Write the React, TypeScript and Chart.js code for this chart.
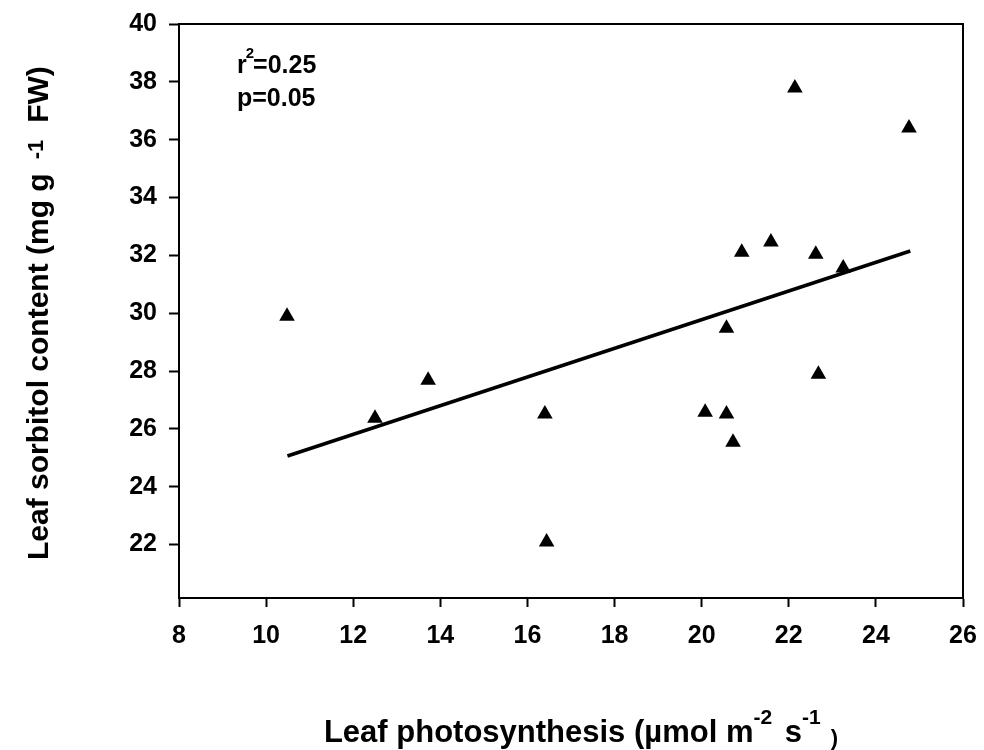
import React, { useEffect, useRef } from "react";
import { Chart, registerables } from "chart.js";

Chart.register(...registerables);

// ---- Data ----
const photosynthesis = [10.48, 12.5, 13.72, 16.4, 16.44, 20.08, 20.57, 20.57, 20.72, 20.92, 21.59, 22.14, 22.62, 22.68, 23.25, 24.76];
const sorbitol = [29.89, 26.37, 27.68, 26.51, 22.09, 26.57, 26.51, 29.48, 25.54, 32.11, 32.46, 37.79, 32.04, 27.89, 31.56, 36.4];

const trendX = [10.49, 24.79];
const trendY = [25.06, 32.15];

const xTickValues = [8, 10, 12, 14, 16, 18, 20, 22, 24, 26];
const yTickValues = [22, 24, 26, 28, 30, 32, 34, 36, 38, 40];

const statLines = [
  ["r", "2", "=0.25"],
  ["p", "", "=0.05"],
];

const xTitleParts = ["Leaf photosynthesis (\u00b5mol m", "-2", " s", "-1", " )"];
const yTitleParts = ["Leaf sorbitol content (mg g", "-1", "FW)"];

const FONT = "'Liberation Sans', Arial, Helvetica, sans-serif";

const decorPlugin = {
  id: "decor",
  afterDraw(chart: any) {
    const ctx = chart.ctx as CanvasRenderingContext2D;
    const { left, right, top, bottom } = chart.chartArea;
    ctx.save();
    // frame
    ctx.strokeStyle = "#000";
    ctx.lineWidth = 2;
    ctx.strokeRect(left, top, right - left, bottom - top);

    ctx.fillStyle = "#000";
    ctx.textBaseline = "alphabetic";
    ctx.textAlign = "left";

    // stats annotation
    const sx = left + 58;
    const lineYs = [top + 49, top + 82];
    statLines.forEach((parts, i) => {
      let x = sx;
      const y = lineYs[i];
      ctx.font = `bold 25px ${FONT}`;
      ctx.fillText(parts[0], x, y);
      x += ctx.measureText(parts[0]).width;
      if (parts[1]) {
        ctx.font = `bold 15px ${FONT}`;
        ctx.fillText(parts[1], x - 1, y - 15);
        x += ctx.measureText(parts[1]).width - 2;
      }
      ctx.font = `bold 25px ${FONT}`;
      ctx.fillText(parts[2], x, y);
    });

    // x title
    const xRuns = [
      { t: xTitleParts[0], s: 31, rise: 0, gap: 0 },
      { t: xTitleParts[1], s: 21, rise: 18, gap: 0 },
      { t: xTitleParts[2], s: 31, rise: 0, gap: 4 },
      { t: xTitleParts[3], s: 21, rise: 18, gap: 0 },
      { t: xTitleParts[4], s: 22, rise: -3, gap: 4 },
    ];
    let total = 0;
    xRuns.forEach((r) => {
      ctx.font = `bold ${r.s}px ${FONT}`;
      total += ctx.measureText(r.t).width + r.gap;
    });
    let x = (left + right) / 2 + 10 - total / 2;
    const baseY = 742;
    xRuns.forEach((r) => {
      ctx.font = `bold ${r.s}px ${FONT}`;
      x += r.gap;
      ctx.fillText(r.t, x, baseY - r.rise);
      x += ctx.measureText(r.t).width;
    });

    // y title (rotated)
    ctx.translate(48, 560);
    ctx.rotate(-Math.PI / 2);
    let p = 0;
    ctx.font = `bold 30px ${FONT}`;
    ctx.fillText(yTitleParts[0], p, 0);
    p += ctx.measureText(yTitleParts[0]).width + 14;
    ctx.font = `bold 22px ${FONT}`;
    ctx.fillText(yTitleParts[1], p, -5);
    p += ctx.measureText(yTitleParts[1]).width + 17;
    ctx.font = `bold 30px ${FONT}`;
    ctx.fillText(yTitleParts[2], p, 0);

    ctx.restore();
  },
};

export default function App() {
  const canvasRef = useRef<HTMLCanvasElement | null>(null);

  useEffect(() => {
    const canvas = canvasRef.current;
    if (!canvas) return;
    const points = photosynthesis.map((v, i) => ({ x: v, y: sorbitol[i] }));
    const trend = trendX.map((v, i) => ({ x: v, y: trendY[i] }));

    const tickFont = { family: FONT, size: 25, weight: "bold" as const };

    const chart = new Chart(canvas, {
      type: "scatter",
      data: {
        datasets: [
          {
            type: "line",
            data: trend,
            borderColor: "#000",
            borderWidth: 3.5,
            pointRadius: 0,
            fill: false,
            order: 2,
          } as any,
          {
            type: "scatter",
            data: points,
            pointStyle: "triangle",
            pointRadius: 9,
            pointHoverRadius: 9,
            backgroundColor: "#000",
            borderColor: "#000",
            borderWidth: 0,
            order: 1,
          } as any,
        ],
      },
      options: {
        responsive: false,
        animation: false,
        devicePixelRatio: 1,
        layout: { padding: { top: 24, right: 21, left: 0, bottom: 0 } },
        plugins: {
          legend: { display: false },
          tooltip: { enabled: false },
          title: { display: false },
        },
        scales: {
          x: {
            type: "linear",
            min: 8,
            max: 26,
            afterBuildTicks: (s: any) => {
              s.ticks = xTickValues.map((v) => ({ value: v }));
            },
            afterFit: (s: any) => {
              s.height = 152;
              s.paddingLeft = 0;
              s.paddingRight = 0;
            },
            ticks: { font: tickFont, color: "#000", padding: 14, maxRotation: 0, autoSkip: false },
            grid: {
              display: true,
              drawOnChartArea: false,
              drawTicks: true,
              tickLength: 9,
              tickWidth: 2,
              tickColor: "#000",
            },
            border: { display: true, color: "#000", width: 2 },
          },
          y: {
            type: "linear",
            min: 20.15,
            max: 40,
            afterBuildTicks: (s: any) => {
              s.ticks = yTickValues.map((v) => ({ value: v }));
            },
            afterFit: (s: any) => {
              s.width = 179;
              s.paddingTop = 0;
              s.paddingBottom = 0;
            },
            ticks: { font: tickFont, color: "#000", padding: 12, autoSkip: false },
            grid: {
              display: true,
              drawOnChartArea: false,
              drawTicks: true,
              tickLength: 10,
              tickWidth: 2,
              tickColor: "#000",
            },
            border: { display: true, color: "#000", width: 2 },
          },
        },
      },
      plugins: [decorPlugin],
    });
    return () => chart.destroy();
  }, []);

  return (
    <div style={{ position: "absolute", left: 0, top: 0, width: 984, height: 750, background: "#fff" }}>
      <canvas ref={canvasRef} width={984} height={750} style={{ width: 984, height: 750, display: "block" }} />
    </div>
  );
}
